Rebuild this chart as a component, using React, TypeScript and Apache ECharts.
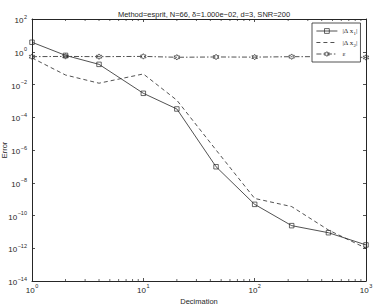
import React, { useEffect, useRef } from "react";
import * as echarts from "echarts";

const decimation = [1, 2, 4, 10, 20, 45, 100, 215, 460, 1000];
const deltaX1 = [3.8, 0.6, 0.17, 2.9e-3, 3.2e-4, 9.5e-8, 4.8e-10, 2.4e-11, 8.9e-12, 1.6e-12];
const deltaX2 = [0.42, 0.038, 0.012, 0.044, 1.1e-3, 1e-6, 1.1e-9, 3.5e-10, 1.3e-11, 1e-12];
const epsilon = [0.5, 0.52, 0.5, 0.52, 0.46, 0.48, 0.47, 0.5, 0.5, 0.45];
const minorTicks = [2, 3, 4, 5, 6, 7, 8, 9, 20, 30, 40, 50, 60, 70, 80, 90, 200, 300, 400, 500, 600, 700, 800, 900];
const xMin = 1;
const xMax = 1000;
const yMin = 1e-14;
const yMax = 1e2;

const titleText = "Method=esprit, N=66, δ=1.000e\u221202, d=3, SNR=200";
const legendLabels: Record<string, string> = {
  dx1: "|Δ x{s|1}|",
  dx2: "|Δ x{s|2}|",
  eps: "ε",
};

const HEX = "path://M0,-1L-0.289,-0.5L-0.866,-0.5L-0.577,0L-0.866,0.5L-0.289,0.5L0,1L0.289,0.5L0.866,0.5L0.577,0L0.866,-0.5L0.289,-0.5Z";
const SQUARE = "path://M0,0L1,0L1,1L0,1Z";
const INK = "#262626";
const CLEAR = "rgba(255,255,255,0)";
const FONT = "'Liberation Sans', Arial, Helvetica, sans-serif";

function powLabel(v: number) {
  const e = Math.round(Math.log10(v));
  const es = e < 0 ? "\u2212" + Math.abs(e) : String(e);
  return "{b|10}{e|" + es + "}";
}

const labelRich = {
  b: { fontSize: 8, fontFamily: FONT, color: INK, lineHeight: 11, verticalAlign: "bottom" },
  e: { fontSize: 5.5, fontFamily: FONT, color: INK, lineHeight: 11, verticalAlign: "top", padding: [0, 0, 0, 0.5] },
};

export default function App() {
  const ref = useRef<HTMLDivElement>(null);
  useEffect(() => {
    if (!ref.current) return;
    const chart = echarts.init(ref.current, undefined, { renderer: "svg" });
    const zip = (ys: number[]) => decimation.map((x, i) => [x, ys[i]]);
    const axisCommon = {
      axisLine: { show: true, lineStyle: { color: INK, width: 1 } },
      axisTick: { show: true, inside: true, length: 3, lineStyle: { color: INK, width: 0.8 } },
      splitLine: { show: false },
      minorTick: { show: false },
    };
    chart.setOption({
      animation: false,
      backgroundColor: "#fff",
      title: {
        text: titleText,
        left: 199,
        textAlign: "center",
        top: 5,
        textStyle: { fontSize: 7.5, fontWeight: "normal", color: INK, fontFamily: FONT },
      },
      grid: { left: 32, top: 19, right: 8, bottom: 24, containLabel: false, outerBoundsMode: "none" },
      legend: {
        data: ["dx1", "dx2", "eps"],
        orient: "vertical",
        left: 312,
        top: 23,
        padding: [3, 3, 3, 4],
        itemWidth: 21,
        itemHeight: 6,
        itemGap: 1.5,
        backgroundColor: "#fff",
        borderColor: INK,
        borderWidth: 0.8,
        borderRadius: 0,
        lineStyle: { width: 0.8 },
        itemStyle: { borderWidth: 0.7 },
        formatter: (name: string) => legendLabels[name],
        textStyle: {
          fontFamily: "'Liberation Serif', 'DejaVu Serif', serif",
          fontSize: 7,
          color: INK,
          lineHeight: 10,
          rich: {
            s: { fontSize: 5, fontFamily: "'Liberation Serif', serif", color: INK, verticalAlign: "bottom", lineHeight: 4 },
          },
        },
      },
      xAxis: [
        {
          type: "log",
          logBase: 10,
          min: xMin,
          max: xMax,
          interval: 1,
          position: "bottom",
          ...axisCommon,
          axisLabel: { formatter: powLabel, rich: labelRich, margin: 2 },
          name: "Decimation",
          nameLocation: "middle",
          nameGap: 16,
          nameMoveOverlap: false,
          nameTextStyle: { fontSize: 7.5, color: INK, fontFamily: FONT },
        },
        {
          type: "log",
          logBase: 10,
          min: xMin,
          max: xMax,
          interval: 1,
          position: "top",
          ...axisCommon,
          axisLabel: { show: false },
        },
      ],
      yAxis: [
        {
          type: "log",
          logBase: 10,
          min: yMin,
          max: yMax,
          interval: 2,
          position: "left",
          ...axisCommon,
          axisLabel: { formatter: powLabel, rich: labelRich, margin: 5 },
          name: "Error",
          nameLocation: "middle",
          nameGap: 24,
          nameRotate: 90,
          nameMoveOverlap: false,
          nameTextStyle: { fontSize: 7.5, color: INK, fontFamily: FONT },
        },
        {
          type: "log",
          logBase: 10,
          min: yMin,
          max: yMax,
          interval: 2,
          position: "right",
          ...axisCommon,
          axisLabel: { show: false },
        },
      ],
      series: [
        {
          type: "custom",
          name: "minor",
          xAxisIndex: 0,
          yAxisIndex: 0,
          silent: true,
          clip: false,
          data: minorTicks.map((v) => [v, 1]),
          renderItem: (params: any, api: any) => {
            const x = api.value(0);
            const b = api.coord([x, yMin]);
            const t = api.coord([x, yMax]);
            const st = { stroke: INK, lineWidth: 0.7 };
            return {
              type: "group",
              children: [
                { type: "line", shape: { x1: b[0], y1: b[1], x2: b[0], y2: b[1] - 2 }, style: st },
                { type: "line", shape: { x1: t[0], y1: t[1], x2: t[0], y2: t[1] + 2 }, style: st },
              ],
            };
          },
        },
        {
          type: "line",
          name: "dx1",
          data: zip(deltaX1),
          symbol: SQUARE,
          symbolSize: 4.5,
          lineStyle: { color: INK, width: 0.8, type: "solid" },
          itemStyle: { color: CLEAR, borderColor: INK, borderWidth: 0.7 },
        },
        {
          type: "line",
          name: "dx2",
          data: zip(deltaX2),
          symbol: "none",
          lineStyle: { color: INK, width: 0.8, type: [4, 3] },
          itemStyle: { color: CLEAR, borderColor: CLEAR, borderWidth: 0 },
        },
        {
          type: "line",
          name: "eps",
          data: zip(epsilon),
          symbol: HEX,
          symbolSize: 5.5,
          lineStyle: { color: INK, width: 0.8, type: [5, 2, 1.5, 2] },
          itemStyle: { color: CLEAR, borderColor: INK, borderWidth: 0.7 },
        },
      ],
    });
    return () => chart.dispose();
  }, []);
  return <div ref={ref} style={{ position: "fixed", left: 0, top: 0, width: 374, height: 305 }} />;
}
